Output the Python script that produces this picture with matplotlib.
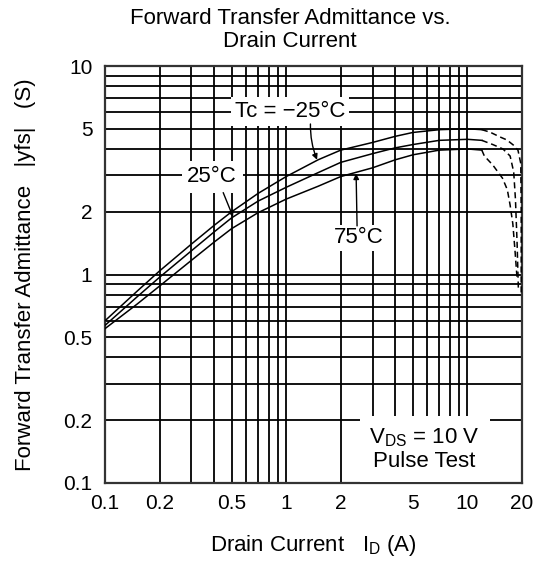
import matplotlib
matplotlib.use("Agg")
import matplotlib.pyplot as plt
from matplotlib.ticker import FixedLocator, FixedFormatter, LogLocator, NullFormatter

plt.rcParams['font.family'] = ['Liberation Sans', 'DejaVu Sans']
plt.rcParams['mathtext.fontset'] = 'custom'
plt.rcParams['mathtext.rm'] = 'Liberation Sans'

# ---- data ----
drain_current = [0.1, 0.15, 0.2, 0.3, 0.4, 0.5, 0.7, 1, 1.5, 2, 3, 4, 5, 7, 10, 12]
yfs_m25 = [0.60, 0.83, 1.04, 1.40, 1.72, 2.0, 2.45, 2.95, 3.55, 3.95, 4.3, 4.6, 4.8, 4.95, 5.0, 4.95]
yfs_25 = [0.57, 0.78, 0.97, 1.30, 1.60, 1.87, 2.25, 2.62, 3.08, 3.45, 3.8, 4.05, 4.2, 4.4, 4.45, 4.4]
yfs_75 = [0.55, 0.72, 0.88, 1.17, 1.43, 1.66, 1.98, 2.30, 2.65, 2.95, 3.25, 3.55, 3.75, 3.95, 4.0, 3.95]

# dashed roll-off near maximum current
drop_x_m25 = [12, 13.3, 15.1, 16.5, 17.9, 19.0, 19.7, 19.8, 19.8]
drop_y_m25 = [4.95, 4.82, 4.57, 4.42, 4.18, 3.95, 3.4, 2.0, 0.8]
drop_x_25 = [12, 13.8, 15.7, 17.2, 18.0, 18.4, 18.8, 19.1]
drop_y_25 = [4.4, 4.2, 4.0, 3.7, 3.1, 2.3, 1.4, 0.85]
drop_x_75 = [12, 12.4, 13.8, 15.6, 16.6, 17.2, 17.8, 18.3, 18.8]
drop_y_75 = [3.95, 3.7, 3.35, 2.9, 2.55, 2.15, 1.75, 1.3, 0.95]

x_ticks = [0.1, 0.2, 0.5, 1, 2, 5, 10, 20]
x_tick_labels = ['0.1', '0.2', '0.5', '1', '2', '5', '10', '20']
y_ticks = [0.1, 0.2, 0.5, 1, 2, 5, 10]
y_tick_labels = ['0.1', '0.2', '0.5', '1', '2', '5', '10']

fig = plt.figure(figsize=(5.6, 5.62), dpi=100)
ax = fig.add_axes([105/560, 1-483/562, (522-105)/560, (483-66)/562])
ax.set_xscale('log')
ax.set_yscale('log')
ax.set_xlim(0.1, 20)
ax.set_ylim(0.1, 10)

ax.xaxis.set_major_locator(FixedLocator(x_ticks))
ax.xaxis.set_major_formatter(FixedFormatter(x_tick_labels))
ax.yaxis.set_major_locator(FixedLocator(y_ticks))
ax.yaxis.set_major_formatter(FixedFormatter(y_tick_labels))
ax.xaxis.set_minor_locator(LogLocator(base=10, subs=range(1, 10), numticks=20))
ax.yaxis.set_minor_locator(LogLocator(base=10, subs=range(1, 10), numticks=20))
ax.xaxis.set_minor_formatter(NullFormatter())
ax.yaxis.set_minor_formatter(NullFormatter())
ax.grid(True, which='both', color='black', linewidth=1.3, zorder=1)
ax.set_axisbelow(True)
ax.tick_params(which='both', length=0)
ax.tick_params(axis='x', pad=8, labelsize=15)
ax.tick_params(axis='y', pad=9, labelsize=15)
for s in ax.spines.values():
    s.set_linewidth(1.6)
    s.set_color('#333333')

lw = 1.1
ax.plot(drain_current, yfs_m25, color='black', lw=lw, zorder=3)
ax.plot(drain_current, yfs_25, color='black', lw=lw, zorder=3)
ax.plot(drain_current, yfs_75, color='black', lw=lw, zorder=3)
for dx, dy in [(drop_x_m25, drop_y_m25), (drop_x_25, drop_y_25), (drop_x_75, drop_y_75)]:
    ax.plot(dx, dy, color='black', lw=lw, ls=(0, (4, 2.5)), zorder=3)

ax.text(1.05, 6.05, 'Tc = \u221225\u00b0C', ha='center', va='center', fontsize=16,
        bbox=dict(facecolor='white', edgecolor='none', pad=3), zorder=4)
ax.text(0.39, 2.94, '25\u00b0C', ha='center', va='center', fontsize=16,
        bbox=dict(facecolor='white', edgecolor='none', pad=4), zorder=4)
ax.text(2.52, 1.50, '75\u00b0C', ha='center', va='center', fontsize=16,
        bbox=dict(facecolor='white', edgecolor='none', pad=2), zorder=4)
ax.text(5.8, 0.145, 'V$_{\\mathregular{DS}}$ = 10 V\nPulse Test', ha='center', va='center',
        fontsize=16, linespacing=1.1,
        bbox=dict(facecolor='white', edgecolor='none', pad=7), zorder=4)

arrow = dict(arrowstyle='-|>', color='black', lw=1.0, mutation_scale=8, shrinkA=0, shrinkB=0)
ax.annotate('', xy=(1.48, 3.55), xytext=(1.36, 5.27),
            arrowprops=dict(arrow, connectionstyle='arc3,rad=0.1'), zorder=5)
ax.annotate('', xy=(0.509, 1.89), xytext=(0.449, 2.47), arrowprops=arrow, zorder=5)
ax.annotate('', xy=(2.43, 3.05), xytext=(2.46, 1.71), arrowprops=arrow, zorder=5)

ax.set_xlabel('Drain Current   I$_{\\mathregular{D}}$ (A)', fontsize=16, labelpad=14)
ax.set_ylabel('Forward Transfer Admittance   |yfs|   (S)', fontsize=16, labelpad=20)
fig.text(290/560, 1-30/562, 'Forward Transfer Admittance vs.\nDrain Current',
         ha='center', va='center', fontsize=16, linespacing=1.15)

fig.savefig('out.png', dpi=100)
